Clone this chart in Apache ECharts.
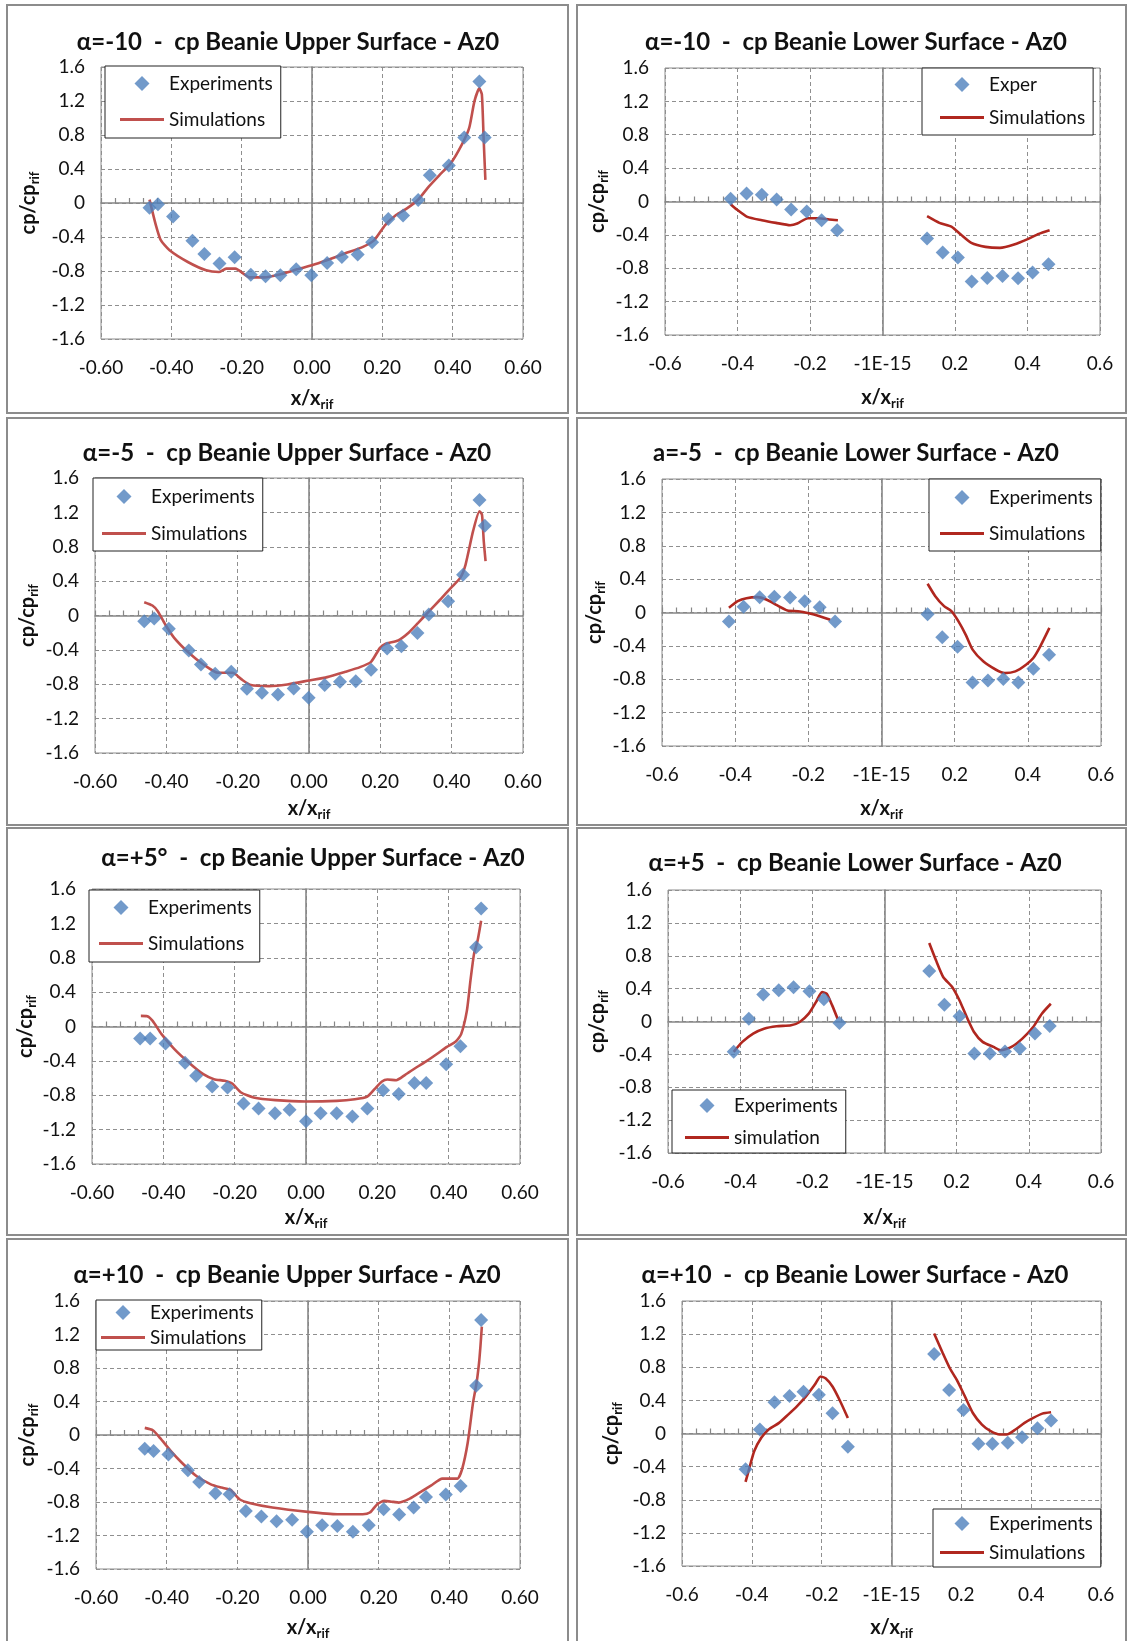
<!DOCTYPE html>
<html><head><meta charset="utf-8">
<script src="https://cdn.jsdelivr.net/npm/echarts@6/dist/echarts.min.js"></script>
<style>html,body{margin:0;padding:0;background:#fff}#c{width:1128px;height:1641px}</style>
</head><body><div id="c"></div>
<script>
// ---------- DATA (x/xrif, cp/cprif) ----------
const expUpperM10 = [[-0.462,-0.055],[-0.438,-0.016],[-0.395,-0.158],[-0.340,-0.445],[-0.306,-0.600],[-0.263,-0.713],[-0.220,-0.638],[-0.174,-0.843],[-0.132,-0.863],[-0.090,-0.851],[-0.045,-0.780],[-0.002,-0.851],[0.043,-0.705],[0.085,-0.634],[0.130,-0.607],[0.171,-0.461],[0.217,-0.189],[0.259,-0.146],[0.302,0.035],[0.335,0.327],[0.389,0.441],[0.433,0.772],[0.476,1.430],[0.491,0.772]];
const simUpperM10 = [[-0.462,0.04],[-0.444,-0.26],[-0.430,-0.437],[-0.405,-0.556],[-0.353,-0.694],[-0.301,-0.792],[-0.265,-0.812],[-0.244,-0.772],[-0.218,-0.772],[-0.177,-0.875],[-0.135,-0.875],[-0.083,-0.831],[-0.042,-0.78],[0,-0.733],[0.042,-0.674],[0.093,-0.595],[0.145,-0.516],[0.177,-0.437],[0.208,-0.26],[0.239,-0.142],[0.27,-0.063],[0.301,0.035],[0.332,0.193],[0.363,0.331],[0.395,0.469],[0.426,0.686],[0.447,0.883],[0.462,1.198],[0.476,1.348],[0.483,1.277],[0.488,0.764],[0.493,0.272]];

const expLowerM10 = [[-0.419,0.032],[-0.375,0.096],[-0.333,0.08],[-0.292,0.024],[-0.252,-0.096],[-0.209,-0.12],[-0.168,-0.224],[-0.125,-0.344],[0.123,-0.444],[0.166,-0.612],[0.208,-0.672],[0.246,-0.96],[0.289,-0.916],[0.331,-0.892],[0.374,-0.92],[0.414,-0.852],[0.458,-0.752]];
const simLowerM10a = [[-0.419,-0.032],[-0.402,-0.096],[-0.373,-0.184],[-0.333,-0.224],[-0.294,-0.256],[-0.255,-0.284],[-0.235,-0.264],[-0.206,-0.2],[-0.176,-0.2],[-0.147,-0.216],[-0.123,-0.224]];
const simLowerM10b = [[0.123,-0.176],[0.157,-0.256],[0.191,-0.304],[0.216,-0.396],[0.245,-0.496],[0.284,-0.544],[0.324,-0.556],[0.363,-0.516],[0.402,-0.448],[0.431,-0.388],[0.461,-0.344]];

const expUpperM5 = [[-0.462,-0.066],[-0.434,-0.035],[-0.393,-0.155],[-0.337,-0.407],[-0.303,-0.57],[-0.263,-0.678],[-0.218,-0.655],[-0.174,-0.853],[-0.132,-0.9],[-0.087,-0.919],[-0.043,-0.849],[-0.001,-0.957],[0.044,-0.81],[0.087,-0.771],[0.131,-0.764],[0.174,-0.632],[0.219,-0.384],[0.259,-0.357],[0.304,-0.205],[0.336,0.012],[0.39,0.167],[0.432,0.473],[0.478,1.345],[0.493,1.043]];
const simUpperM5 = [[-0.462,0.155],[-0.439,0.116],[-0.424,0.05],[-0.403,-0.105],[-0.378,-0.26],[-0.337,-0.434],[-0.296,-0.57],[-0.255,-0.667],[-0.214,-0.667],[-0.189,-0.744],[-0.163,-0.81],[-0.112,-0.822],[-0.061,-0.802],[0,-0.756],[0.051,-0.717],[0.102,-0.655],[0.143,-0.601],[0.174,-0.539],[0.199,-0.376],[0.215,-0.329],[0.25,-0.291],[0.276,-0.213],[0.306,-0.085],[0.337,0.05],[0.368,0.186],[0.398,0.322],[0.424,0.438],[0.439,0.593],[0.46,0.981],[0.478,1.213],[0.485,1.174],[0.49,0.864],[0.495,0.632]];

const expLowerM5 = [[-0.417,-0.108],[-0.377,0.068],[-0.333,0.184],[-0.293,0.188],[-0.25,0.18],[-0.21,0.136],[-0.169,0.064],[-0.127,-0.108],[0.126,-0.02],[0.166,-0.297],[0.208,-0.409],[0.249,-0.838],[0.291,-0.814],[0.333,-0.798],[0.374,-0.838],[0.415,-0.674],[0.458,-0.505]];
const simLowerM5a = [[-0.417,0.056],[-0.393,0.136],[-0.369,0.172],[-0.34,0.184],[-0.315,0.156],[-0.286,0.088],[-0.257,0.024],[-0.228,0.016],[-0.199,-0.008],[-0.169,-0.044],[-0.14,-0.088]];
const simLowerM5b = [[0.126,0.345],[0.147,0.196],[0.171,0.076],[0.191,0.016],[0.21,-0.104],[0.23,-0.265],[0.249,-0.445],[0.278,-0.585],[0.313,-0.686],[0.337,-0.726],[0.366,-0.706],[0.395,-0.626],[0.415,-0.545],[0.434,-0.405],[0.459,-0.184]];

const expUpperP5 = [[-0.465,-0.14],[-0.437,-0.14],[-0.394,-0.198],[-0.339,-0.423],[-0.308,-0.574],[-0.263,-0.698],[-0.22,-0.71],[-0.175,-0.896],[-0.133,-0.954],[-0.087,-1.009],[-0.046,-0.97],[0,-1.102],[0.041,-1.009],[0.086,-1.009],[0.13,-1.047],[0.172,-0.954],[0.216,-0.741],[0.26,-0.784],[0.304,-0.656],[0.337,-0.656],[0.393,-0.438],[0.433,-0.229],[0.477,0.923],[0.491,1.373]];
const simUpperP5 = [[-0.463,0.124],[-0.445,0.12],[-0.43,0.066],[-0.405,-0.089],[-0.369,-0.264],[-0.329,-0.419],[-0.288,-0.555],[-0.258,-0.613],[-0.228,-0.632],[-0.207,-0.663],[-0.182,-0.768],[-0.147,-0.826],[-0.086,-0.857],[0,-0.873],[0.086,-0.865],[0.137,-0.846],[0.172,-0.815],[0.192,-0.729],[0.213,-0.64],[0.228,-0.617],[0.253,-0.625],[0.278,-0.562],[0.309,-0.477],[0.339,-0.4],[0.369,-0.314],[0.395,-0.237],[0.42,-0.175],[0.435,-0.089],[0.451,0.182],[0.461,0.531],[0.471,0.842],[0.481,0.997],[0.491,1.23]];

const expLowerP5 = [[-0.418,-0.369],[-0.376,0.034],[-0.336,0.329],[-0.293,0.381],[-0.252,0.418],[-0.208,0.369],[-0.168,0.272],[-0.125,-0.018],[0.124,0.615],[0.166,0.204],[0.208,0.063],[0.249,-0.389],[0.292,-0.389],[0.334,-0.365],[0.375,-0.329],[0.417,-0.147],[0.458,-0.054]];
const simLowerP5a = [[-0.418,-0.369],[-0.394,-0.248],[-0.364,-0.147],[-0.334,-0.087],[-0.299,-0.058],[-0.259,-0.046],[-0.235,-0.006],[-0.21,0.095],[-0.19,0.236],[-0.173,0.357],[-0.16,0.337],[-0.145,0.196],[-0.13,0.034]];
const simLowerP5b = [[0.124,0.955],[0.143,0.741],[0.163,0.539],[0.188,0.418],[0.208,0.256],[0.228,0.054],[0.248,-0.127],[0.272,-0.248],[0.302,-0.309],[0.322,-0.349],[0.352,-0.309],[0.382,-0.208],[0.412,-0.067],[0.436,0.095],[0.461,0.216]];

const expUpperP10 = [[-0.462,-0.165],[-0.437,-0.192],[-0.395,-0.232],[-0.34,-0.422],[-0.308,-0.561],[-0.262,-0.696],[-0.222,-0.708],[-0.176,-0.906],[-0.132,-0.973],[-0.089,-1.029],[-0.045,-1.013],[-0.003,-1.156],[0.04,-1.077],[0.083,-1.088],[0.127,-1.156],[0.172,-1.077],[0.214,-0.886],[0.258,-0.95],[0.299,-0.866],[0.334,-0.739],[0.39,-0.711],[0.432,-0.609],[0.476,0.589],[0.49,1.374]];
const simUpperP10 = [[-0.462,0.085],[-0.439,0.057],[-0.419,-0.034],[-0.388,-0.192],[-0.357,-0.331],[-0.316,-0.49],[-0.275,-0.589],[-0.245,-0.628],[-0.219,-0.656],[-0.194,-0.767],[-0.163,-0.815],[-0.101,-0.866],[0,-0.918],[0.083,-0.946],[0.155,-0.946],[0.175,-0.926],[0.196,-0.826],[0.216,-0.787],[0.242,-0.799],[0.257,-0.807],[0.288,-0.76],[0.319,-0.68],[0.349,-0.601],[0.38,-0.521],[0.4,-0.521],[0.423,-0.521],[0.436,-0.41],[0.452,-0.093],[0.467,0.383],[0.477,0.621],[0.484,0.859],[0.488,1.057],[0.492,1.295]];

const expLowerP10 = [[-0.418,-0.432],[-0.377,0.048],[-0.335,0.376],[-0.292,0.452],[-0.252,0.504],[-0.208,0.468],[-0.169,0.244],[-0.125,-0.16],[0.122,0.96],[0.165,0.524],[0.206,0.284],[0.249,-0.124],[0.289,-0.124],[0.333,-0.112],[0.374,-0.044],[0.418,0.064],[0.457,0.156]];
const simLowerP10a = [[-0.418,-0.584],[-0.408,-0.432],[-0.393,-0.212],[-0.373,-0.052],[-0.352,0.048],[-0.322,0.128],[-0.296,0.228],[-0.271,0.328],[-0.245,0.448],[-0.22,0.588],[-0.203,0.688],[-0.189,0.668],[-0.169,0.568],[-0.149,0.408],[-0.125,0.188]];
const simLowerP10b = [[0.122,1.208],[0.147,0.968],[0.167,0.788],[0.187,0.648],[0.208,0.468],[0.233,0.248],[0.259,0.108],[0.284,0.028],[0.31,-0.012],[0.33,-0.012],[0.355,0.048],[0.381,0.128],[0.406,0.188],[0.432,0.24],[0.457,0.256]];

const panelTitles = [
  'α=-10  -  cp Beanie Upper Surface - Az0',
  'α=-10  -  cp Beanie Lower Surface - Az0',
  'α=-5  -  cp Beanie Upper Surface - Az0',
  'a=-5  -  cp Beanie Lower Surface - Az0',
  'α=+5°  -  cp Beanie Upper Surface - Az0',
  'α=+5  -  cp Beanie Lower Surface - Az0',
  'α=+10  -  cp Beanie Upper Surface - Az0',
  'α=+10  -  cp Beanie Lower Surface - Az0'
];
const expNames = ['Experiments','Exper','Experiments','Experiments','Experiments','Experiments','Experiments','Experiments'];
const simNames = ['Simulations','Simulations','Simulations','Simulations','Simulations','simulation','Simulations','Simulations'];
const expData = [expUpperM10, expLowerM10, expUpperM5, expLowerM5, expUpperP5, expLowerP5, expUpperP10, expLowerP10];
const simData = [[simUpperM10],[simLowerM10a, simLowerM10b],[simUpperM5],[simLowerM5a, simLowerM5b],[simUpperP5],[simLowerP5a, simLowerP5b],[simUpperP10],[simLowerP10a, simLowerP10b]];

// ---------- LAYOUT / STYLE ----------
const FONT = 'Lato, "Liberation Sans", sans-serif';
const layout = [
  {box:[7,5,561,408],    title:[288,42],   grid:[101,67,422,272],  xGap:48, yGap:60, leg:{left:105, top:66, pad:[8,8,9,15], gap:17}},
  {box:[577,5,549,408],  title:[856,42],   grid:[665,68,435,267],  xGap:51, yGap:55, leg:{left:922, top:68, pad:[7,8,8,18], gap:14}},
  {box:[7,418,561,407],  title:[287,453],  grid:[95,478,428,275],  xGap:44, yGap:55, leg:{left:93, top:478, pad:[9,8,8,9], gap:18}},
  {box:[577,418,549,407],title:[856,453],  grid:[662,479,439,267], xGap:51, yGap:55, leg:{left:929, top:479, pad:[9,8,8,11], gap:17}},
  {box:[7,828,561,407],  title:[313,858],  grid:[92,889,428,275],  xGap:42, yGap:54, leg:{left:89, top:890, pad:[8,8,9,10], gap:17}},
  {box:[577,828,549,407],title:[855,863],  grid:[668,890,433,263], xGap:53, yGap:58, leg:{left:672, top:1090, pad:[6,8,6,13], gap:13}},
  {box:[7,1239,561,420], title:[287,1275], grid:[96,1301,424,269], xGap:47, yGap:56, leg:{left:96, top:1300, pad:[3,8,3,5], gap:6}},
  {box:[577,1239,549,420],title:[855,1275],grid:[682,1301,419,266], xGap:50, yGap:58, leg:{left:933, top:1509, pad:[5,8,5,7], gap:10}}
];
const lowerPanel = [false,true,false,true,false,true,false,true];
const simColors = ['#C0504D','#B0271F','#C0504D','#B0271F','#C0504D','#B0271F','#C0504D','#B0271F'];
const EXP_COLOR = '#4F81BD';
const DIAMOND_ICON = 'path://M5,0L10,5L5,10L0,5Z';
const LINE_ICON = 'path://M0,0H44V3H0Z';

const fmtUpper = v => (Math.abs(v) < 1e-9 ? 0 : v).toFixed(2);
const fmtLower = v => Math.abs(v) < 1e-9 ? '-1E-15' : String(+v.toFixed(1));
const fmtY = v => String(+v.toFixed(1));

const grids = [], xAxes = [], yAxes = [], series = [], legends = [], graphics = [];
const dash = {color:'#8f8f8f', type:[4,3], width:1};
const zeroLine = {color:'#878787', width:1.6};
const nameRich = {
  b:{fontSize:20, fontWeight:'bold', fontFamily:FONT, color:'#111', lineHeight:24, verticalAlign:'middle'},
  s:{fontSize:13, fontWeight:'bold', fontFamily:FONT, color:'#111', lineHeight:13, verticalAlign:'bottom'}
};

layout.forEach((L, i) => {
  grids.push({left:L.grid[0], top:L.grid[1], width:L.grid[2], height:L.grid[3], show:true,
    borderColor:'#8c8c8c', borderWidth:1, backgroundColor:'#fff', containLabel:false});
  xAxes.push({gridIndex:i, type:'value', min:-0.6, max:0.6, interval:0.2,
    axisLine:{show:false, onZero:false}, axisTick:{show:false},
    splitLine:{show:true, lineStyle:dash},
    axisLabel:{formatter: lowerPanel[i] ? fmtLower : fmtUpper, fontSize:19, color:'#111', margin:19, fontFamily:FONT},
    name:'{b|x/x}{s|rif}', nameLocation:'middle', nameGap:L.xGap,
    nameTextStyle:{rich:nameRich}});
  xAxes.push({gridIndex:i, type:'value', min:-0.6, max:0.6, interval:0.2, position:'bottom',
    axisLine:{show:true, onZero:true, lineStyle:zeroLine},
    axisTick:{show:true, inside:true, length:5, lineStyle:{color:'#878787', width:1.2}},
    minorTick:{show:true, splitNumber:5, length:5, lineStyle:{color:'#878787', width:1.2}},
    axisLabel:{show:false}, splitLine:{show:false}});
  yAxes.push({gridIndex:i, type:'value', min:-1.6, max:1.6, interval:0.4,
    axisLine:{show:false, onZero:false}, axisTick:{show:false},
    splitLine:{show:true, lineStyle:dash},
    axisLabel:{formatter: fmtY, fontSize:19, color:'#111', margin:16, fontFamily:FONT},
    name:'{b|cp/cp}{s|rif}', nameLocation:'middle', nameGap:L.yGap, nameRotate:90,
    nameTextStyle:{rich:nameRich}});
  yAxes.push({gridIndex:i, type:'value', min:-1.6, max:1.6, interval:0.4, position:'left',
    axisLine:{show:true, onZero:true, lineStyle:zeroLine},
    axisTick:{show:false}, axisLabel:{show:false}, splitLine:{show:false}});

  const simName = simNames[i] + '#' + i;
  const expName = expNames[i] + '#' + i;
  simData[i].forEach(arr => {
    series.push({type:'line', name:simName, xAxisIndex:2*i, yAxisIndex:2*i, data:arr,
      symbol:'none', smooth:0.2, lineStyle:{color:simColors[i], width:2.6},
      itemStyle:{color:simColors[i]}, z:2, animation:false});
  });
  series.push({type:'scatter', name:expName, xAxisIndex:2*i, yAxisIndex:2*i, data:expData[i],
    symbol:'diamond', symbolSize:14, itemStyle:{color:EXP_COLOR}, z:3, animation:false});

  legends.push({show:true, orient:'vertical', left:L.leg.left, top:L.leg.top, padding:L.leg.pad,
    itemGap:L.leg.gap, itemWidth:44, itemHeight:15, selectedMode:false, symbolKeepAspect:true,
    data:[{name:expName, icon:DIAMOND_ICON}, {name:simName, icon:LINE_ICON}],
    formatter: n => n.split('#')[0],
    borderColor:'#222', borderWidth:1, backgroundColor:'#fff',
    textStyle:{fontSize:19, color:'#111', fontFamily:FONT}});

  graphics.push({type:'rect', silent:true, z:-10, shape:{x:L.box[0], y:L.box[1], width:L.box[2], height:L.box[3]},
    style:{fill:'none', stroke:'#8c8c8c', lineWidth:2}});
  graphics.push({type:'text', silent:true, x:L.title[0], y:L.title[1],
    style:{text:panelTitles[i], font:'bold 24px ' + FONT, fill:'#111', align:'center', verticalAlign:'middle',
      textAlign:'center', textVerticalAlign:'middle'}});
});

const chart = echarts.init(document.getElementById('c'), null, {renderer:'canvas'});
chart.setOption({
  animation:false,
  backgroundColor:'#fff',
  grid:grids, xAxis:xAxes, yAxis:yAxes, series:series, legend:legends, graphic:graphics
});
</script></body></html>
